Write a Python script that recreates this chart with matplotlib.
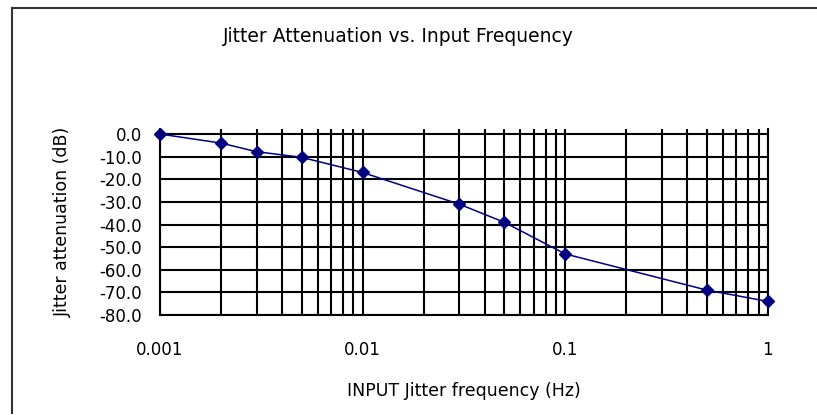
import numpy as np
import matplotlib.pyplot as plt
from matplotlib.lines import Line2D
from matplotlib.ticker import FixedLocator, LogLocator, NullFormatter

# Data
freq = [0.001, 0.002, 0.003, 0.005, 0.01, 0.03, 0.05, 0.1, 0.5, 1.0]
atten = [0.0, -4.0, -7.8, -10.3, -17.0, -31.0, -39.0, -53.0, -69.0, -74.0]
y_ticks = [0, -10, -20, -30, -40, -50, -60, -70, -80]
x_ticks = [0.001, 0.01, 0.1, 1]
x_tick_labels = ['0.001', '0.01', '0.1', '1']

plt.rcParams['font.family'] = ['DejaVu Sans']

fig = plt.figure(figsize=(8.17, 4.15), dpi=100)
ax = fig.add_axes([0.1958, 0.241, 0.744, 0.448])

ax.plot(freq, atten, color='#000080', linewidth=1.1, marker='D',
        markersize=6, markerfacecolor='#000080', markeredgecolor='#000080',
        clip_on=False, zorder=5)

ax.set_xscale('log')
ax.set_xlim(0.001, 1)
ax.set_ylim(-80, 2.2)

ax.xaxis.set_major_locator(FixedLocator(x_ticks))
ax.set_xticklabels(x_tick_labels)
ax.xaxis.set_minor_locator(LogLocator(base=10, subs=np.arange(2, 10)))
ax.xaxis.set_minor_formatter(NullFormatter())
ax.set_yticks(y_ticks)
ax.set_yticklabels([f'{v:.1f}' for v in y_ticks])

ax.grid(True, which='both', axis='x', color='black', linewidth=1.5)
ax.grid(True, which='major', axis='y', color='black', linewidth=1.5)
ax.set_axisbelow(True)

ax.spines['top'].set_visible(False)
for s in ['left', 'right', 'bottom']:
    ax.spines[s].set_linewidth(1.5)
ax.tick_params(axis='both', which='both', length=0, labelsize=12)
ax.tick_params(axis='x', pad=19)
ax.tick_params(axis='y', pad=13)

ax.set_xlabel('INPUT Jitter frequency (Hz)', fontsize=12.5)
ax.xaxis.set_label_coords(0.5, -0.36)
ax.set_ylabel('Jitter attenuation (dB)', fontsize=12.5)
ax.yaxis.set_label_coords(-0.145, 0.5)

fig.text(0.488, 0.913, 'Jitter Attenuation vs. Input Frequency',
         ha='center', va='center', fontsize=13.5)

# outer chart frame (only left and top edges visible)
fig.add_artist(Line2D([12 / 817, 12 / 817], [1 - 413 / 415, 1 - 8 / 415],
                      color='#333333', linewidth=1.5))
fig.add_artist(Line2D([12 / 817, 1.0], [1 - 8 / 415, 1 - 8 / 415],
                      color='#333333', linewidth=1.5))

fig.savefig('out.png', dpi=100)
